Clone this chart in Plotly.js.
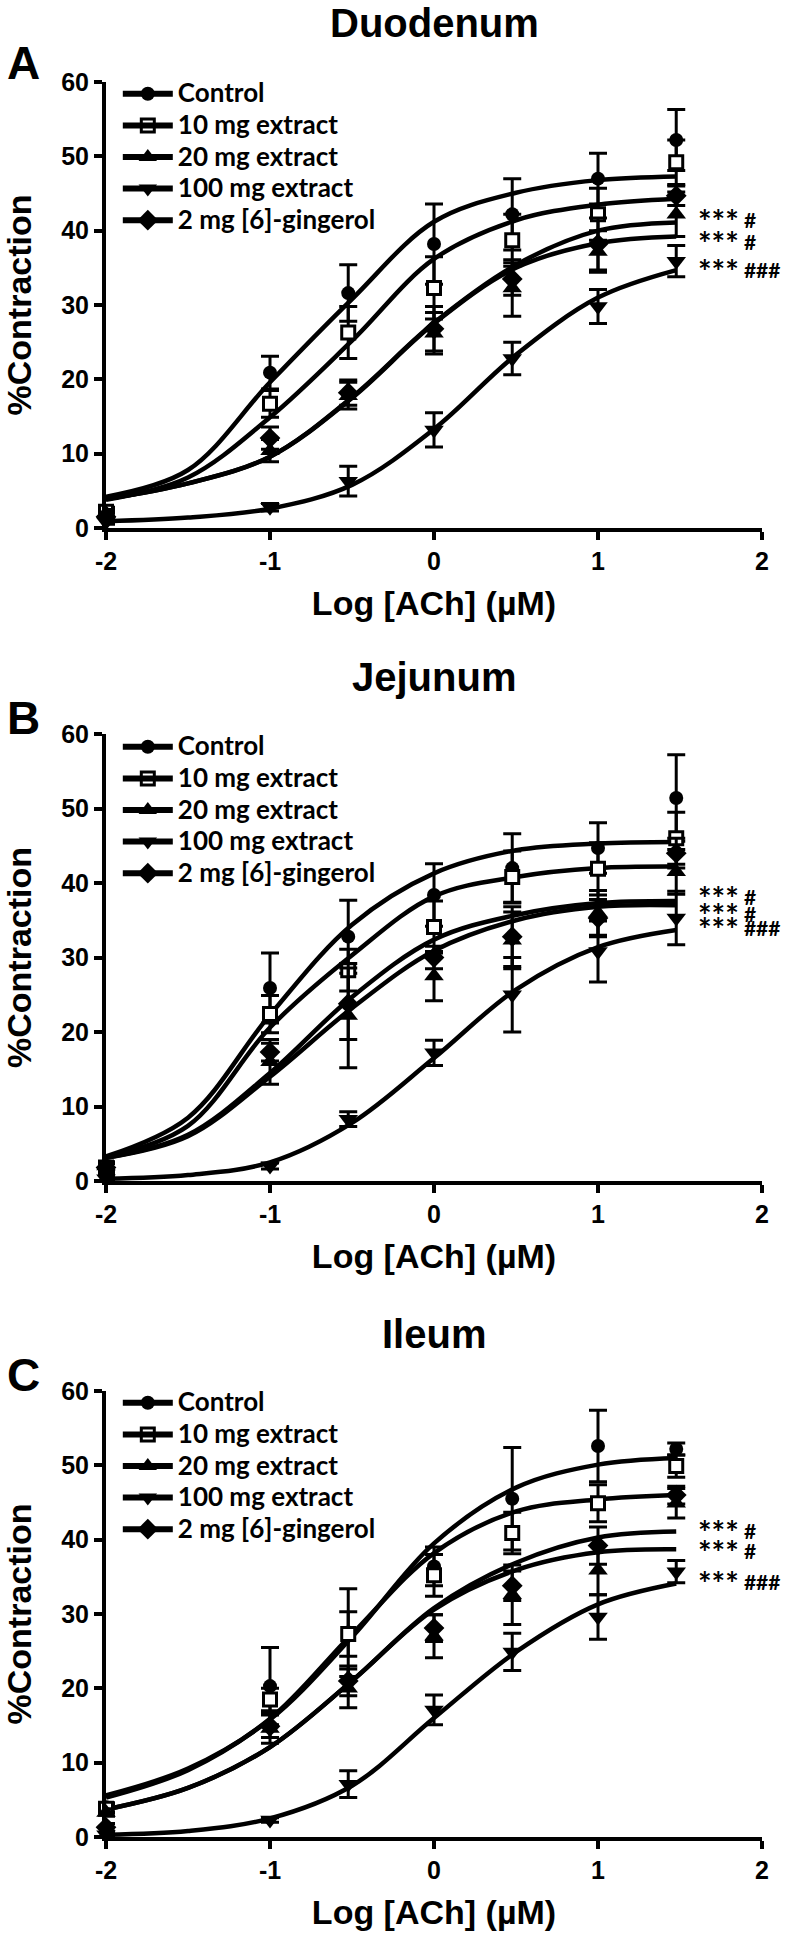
<!DOCTYPE html>
<html>
<head>
<meta charset="utf-8">
<script src="https://cdn.plot.ly/plotly-3.0.1.min.js"></script>
<style>
html,body{margin:0;padding:0;background:#fff;}
#chart{width:792px;height:1938px;}
</style>
</head>
<body>
<div id="chart"></div>
<script>
// ---------- data ----------
const panelTitles = ['Duodenum', 'Jejunum', 'Ileum'];
const panelLetters = ['A', 'B', 'C'];
const seriesNames = ['Control', '10 mg extract', '20 mg extract', '100 mg extract', '2 mg [6]-gingerol'];
const xTickVals = [-2, -1, 0, 1, 2];
const xTickLabels = ['-2', '-1', '0', '1', '2'];
const yTickVals = [0, 10, 20, 30, 40, 50, 60];
const yTickLabels = ['0', '10', '20', '30', '40', '50', '60'];
const sigStars = ['***', '***', '***'];
const sigHashes = ['#', '#', '###'];

// log10 of ACh concentration (µM): 0.01, 0.1, 0.3, 1, 3, 10, 30
const doseLog = [-2, -1, -0.523, 0, 0.477, 1, 1.477];
// x positions where the fitted curves were read
const fitX = [-2, -1.5, -1, -0.5, 0, 0.5, 1, 1.477];

// Duodenum (A): rows = Control, 10 mg, 20 mg, 100 mg, 2 mg [6]-gingerol
const duoMean = [
  [1.5, 20.9, 31.6, 38.2, 42.2, 47.0, 52.2],
  [2.2, 16.7, 26.3, 32.3, 38.7, 42.2, 49.2],
  [2.0, 10.4, 17.8, 26.2, 32.3, 37.2, 42.2],
  [0.8, 2.8, 6.3, 13.2, 22.8, 29.8, 35.9],
  [1.5, 12.1, 18.2, 26.8, 33.5, 38.2, 44.7]
];
const duoSem = [
  [0.6, 2.2, 3.8, 5.4, 4.8, 3.4, 4.1],
  [0.6, 1.8, 3.5, 4.2, 3.5, 3.5, 3.0],
  [0.5, 1.5, 1.8, 2.8, 3.8, 2.8, 3.0],
  [0.3, 0.5, 2.0, 2.3, 2.2, 2.3, 2.1],
  [0.5, 1.5, 1.7, 3.0, 2.2, 3.5, 1.3]
];
const duoFit = [
  [4.2, 7.8, 19.6, 30.8, 41.2, 45.1, 46.8, 47.3],
  [3.8, 6.8, 14.9, 25.2, 36.2, 41.4, 43.5, 44.3],
  [3.9, 6.0, 9.6, 17.6, 27.6, 35.4, 40.0, 41.1],
  [0.9, 1.4, 2.6, 5.8, 13.3, 23.3, 31.0, 34.7],
  [3.9, 6.0, 9.6, 17.5, 27.5, 35.0, 38.3, 39.2]
];

// Jejunum (B)
const jejMean = [
  [1.2, 25.9, 32.8, 38.4, 42.0, 44.7, 51.4],
  [1.8, 22.4, 28.3, 34.1, 40.8, 41.9, 46.0],
  [2.0, 16.0, 22.2, 27.5, 32.3, 36.0, 41.5],
  [0.3, 2.0, 8.3, 17.2, 25.0, 30.8, 35.3],
  [1.8, 17.3, 23.8, 30.0, 32.8, 35.3, 44.0]
];
const jejSem = [
  [0.5, 4.7, 4.9, 4.2, 4.6, 3.4, 5.8],
  [0.8, 2.5, 2.8, 3.5, 3.5, 3.5, 3.5],
  [0.5, 3.0, 7.0, 3.3, 3.8, 3.0, 3.0],
  [0.2, 0.4, 1.0, 1.7, 5.0, 4.1, 3.6],
  [0.5, 1.2, 4.8, 1.5, 4.0, 2.5, 2.0]
];
const jejFit = [
  [3.3, 8.5, 22.3, 34.4, 41.3, 44.4, 45.3, 45.5],
  [3.2, 7.4, 20.6, 30.3, 38.2, 40.8, 42.0, 42.2],
  [3.1, 6.0, 14.0, 23.2, 30.9, 35.0, 36.8, 37.0],
  [0.3, 0.8, 2.5, 7.8, 16.5, 25.7, 31.4, 33.7],
  [3.1, 6.2, 14.5, 24.7, 32.4, 35.7, 37.3, 37.6]
];

// Ileum (C)
const ileMean = [
  [4.0, 20.3, 27.5, 36.4, 45.5, 52.6, 52.2],
  [3.8, 18.5, 27.3, 35.2, 40.9, 44.9, 49.9],
  [3.3, 14.6, 20.0, 27.0, 32.6, 35.9, 44.9],
  [0.3, 2.3, 7.1, 17.1, 24.9, 29.6, 35.7],
  [1.3, 14.9, 21.0, 28.1, 33.8, 39.2, 46.0]
];
const ileSem = [
  [0.6, 5.2, 5.9, 2.6, 6.9, 4.8, 0.8],
  [0.6, 1.5, 3.0, 2.8, 2.8, 2.5, 1.5],
  [0.5, 2.0, 2.6, 2.9, 4.0, 3.3, 2.0],
  [0.2, 0.3, 1.8, 2.0, 2.5, 3.0, 1.5],
  [0.5, 1.5, 2.0, 1.8, 2.0, 2.5, 1.2]
];
const ileFit = [
  [5.6, 9.2, 15.8, 26.9, 39.5, 47.0, 50.1, 51.0],
  [5.3, 9.0, 15.9, 27.3, 38.2, 43.8, 45.4, 46.0],
  [3.7, 6.6, 12.1, 21.0, 30.8, 36.9, 40.3, 41.1],
  [0.3, 0.8, 2.5, 6.9, 16.0, 24.9, 31.3, 34.1],
  [3.7, 6.6, 12.1, 21.0, 30.6, 35.9, 38.3, 38.7]
];

// y values (data units) where the significance labels sit in each panel
const sigY = [
  [41.2, 38.3, 34.5],
  [37.9, 35.7, 33.7],
  [40.9, 38.3, 34.1]
];

// ---------- styling ----------
const ARIAL = 'Liberation Sans, Arial, Helvetica, sans-serif';
const CALIBRI = 'Lato, Carlito, Calibri, Liberation Sans, sans-serif';
const symbols = ['circle', 'square', 'triangle-up', 'triangle-down', 'diamond'];
const fills = ['black', 'white', 'black', 'black', 'black'];
const legendFills = ['black', 'rgba(0,0,0,0)', 'black', 'black', 'black'];
const sizes = [14, 13, 17, 17, 16];

const panels = [
  {mean: duoMean, sem: duoSem, fit: duoFit},
  {mean: jejMean, sem: jejSem, fit: jejFit},
  {mean: ileMean, sem: ileSem, fit: ileFit}
];

// plot geometry (pixels)
const H = 1938, T = 82, B = 101, L = 106;
const paperH = H - T - B;
const pY = px => (H - B - px) / paperH;   // pixel row -> paper fraction
const panelTop = [81.7, 734, 1391];     // pixel row of y = 60
const panelBot = [528, 1181, 1837];     // pixel row of y = 0
const titleRow = [23, 677, 1334];
const letterRow = [63, 718, 1375];
const legendTopRow = [73, 726, 1382];

const traces = [];
const annotations = [];
const layout = {
  width: 792, height: H,
  margin: {l: L, r: 30, t: T, b: B},
  paper_bgcolor: 'white', plot_bgcolor: 'white',
  showlegend: true,
  font: {family: ARIAL, color: 'black'},
  annotations: annotations
};

panels.forEach((p, k) => {
  const sfx = k === 0 ? '' : String(k + 1);
  const xa = 'x' + sfx, ya = 'y' + sfx;
  const legendId = 'legend' + sfx;

  // fitted curves
  p.fit.forEach((row, s) => {
    traces.push({
      type: 'scatter', mode: 'lines', xaxis: xa, yaxis: ya,
      x: fitX, y: row, name: seriesNames[s],
      line: {color: 'black', width: 4.5, shape: 'spline', smoothing: 1},
      showlegend: false, hoverinfo: 'skip', cliponaxis: false
    });
  });
  // mean ± SEM points
  p.mean.forEach((row, s) => {
    traces.push({
      type: 'scatter', mode: 'markers', xaxis: xa, yaxis: ya,
      x: doseLog, y: row, name: seriesNames[s],
      error_y: {type: 'data', array: p.sem[s], visible: true, color: 'black', thickness: 3, width: 9},
      marker: {symbol: symbols[s], size: sizes[s], color: fills[s],
               line: {color: 'black', width: s === 1 ? 3 : 0}},
      showlegend: false, cliponaxis: false
    });
  });
  // legend entries (line + marker, as in the original)
  seriesNames.forEach((nm, s) => {
    traces.push({
      type: 'scatter', mode: 'lines+markers', xaxis: xa, yaxis: ya,
      x: [null], y: [null], name: '<span style="font-size:26px">' + nm + '</span>',
      legend: legendId,
      line: {color: 'black', width: 6},
      marker: {symbol: symbols[s], size: sizes[s], color: legendFills[s],
               line: {color: 'black', width: s === 1 ? 3 : 0}},
      showlegend: true, hoverinfo: 'skip'
    });
  });

  layout['xaxis' + sfx] = {
    domain: [0, 1], anchor: ya, range: [-2, 2],
    tickmode: 'array', tickvals: xTickVals, ticktext: xTickLabels,
    showline: true, linecolor: 'black', linewidth: 4,
    ticks: 'outside', ticklen: 8, tickwidth: 4, tickcolor: 'black',
    tickfont: {family: ARIAL, size: 25, weight: 'bold', color: 'black'},
    showgrid: false, zeroline: false, fixedrange: true,
    title: {text: 'Log [ACh] (µM)', standoff: 18,
            font: {family: ARIAL, size: 34, weight: 'bold', color: 'black'}}
  };
  layout['yaxis' + sfx] = {
    domain: [pY(panelBot[k]), pY(panelTop[k])], anchor: xa, range: [0, 60],
    tickmode: 'array', tickvals: yTickVals, ticktext: yTickLabels,
    showline: true, linecolor: 'black', linewidth: 4,
    ticks: 'outside', ticklen: 8, tickwidth: 4, tickcolor: 'black',
    tickfont: {family: ARIAL, size: 25, weight: 'bold', color: 'black'},
    showgrid: false, zeroline: false, fixedrange: true,
    title: {text: '%Contraction', standoff: 24,
            font: {family: ARIAL, size: 34, weight: 'bold', color: 'black'}}
  };
  layout[legendId] = {
    x: 0.018, xanchor: 'left', xref: 'paper',
    y: pY(legendTopRow[k]), yanchor: 'top', yref: 'paper',
    bgcolor: 'rgba(0,0,0,0)', borderwidth: 0,
    itemwidth: 50, itemsizing: 'trace',
    font: {family: CALIBRI, size: 22, weight: 'bold', color: 'black'}
  };

  annotations.push({
    text: panelTitles[k], xref: 'paper', yref: 'paper', x: 0.5, y: pY(titleRow[k]),
    xanchor: 'center', yanchor: 'middle', showarrow: false,
    font: {family: ARIAL, size: 40, weight: 'bold', color: 'black'}
  });
  annotations.push({
    text: panelLetters[k], xref: 'paper', yref: 'paper', x: -0.1265, y: pY(letterRow[k]),
    xanchor: 'center', yanchor: 'middle', showarrow: false,
    font: {family: ARIAL, size: 46, weight: 'bold', color: 'black'}
  });
  sigStars.forEach((st, i) => {
    annotations.push({
      text: '<span style="font-size:32px;baseline-shift:-6px">' + st + '</span> ' + sigHashes[i],
      xref: xa, yref: ya, x: 1.6, y: sigY[k][i],
      xanchor: 'left', yanchor: 'middle', showarrow: false,
      font: {family: CALIBRI, size: 21, weight: 'bold', color: 'black'}
    });
  });
});

Plotly.newPlot('chart', traces, layout, {staticPlot: true, displayModeBar: false});
</script>
</body>
</html>
